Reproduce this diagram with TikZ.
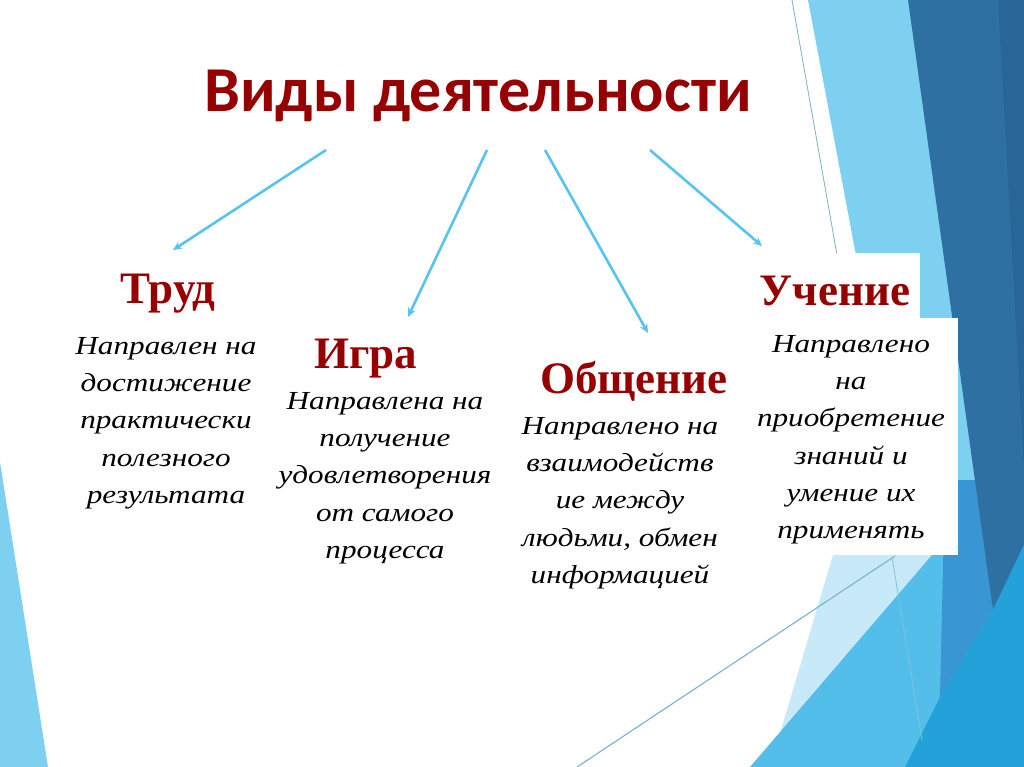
\documentclass[tikz,border=0pt]{standalone}
\usepackage{fontspec}
\setmainfont{Liberation Serif}
\newfontfamily\titulofont{Carlito}
\newfontfamily\textofont[FakeStretch=1.2]{Liberation Serif}
\usetikzlibrary{arrows.meta}

\begin{document}
\begin{tikzpicture}[x=1pt, y=-1pt, >={Stealth[length=9pt, width=8pt]},
    titulo/.style={font=\titulofont\bfseries\fontsize{64}{64}\selectfont, text=Rojo, inner sep=0pt, anchor=base},
    tipo/.style={font=\bfseries\fontsize{45}{45}\selectfont, text=Rojo, inner sep=0pt, anchor=base},
    texto/.style={font=\textofont\itshape\fontsize{26}{37.3}\selectfont, align=center, inner sep=0pt, anchor=north},
    flecha/.style={->, line width=2.6pt, Flecha}]

    % Colores de la diapositiva
    \definecolor{Rojo}{RGB}{150,0,0}
    \definecolor{Flecha}{RGB}{88,196,236}
    \definecolor{Celeste}{RGB}{126,208,240}
    \definecolor{Palido}{RGB}{200,233,247}
    \definecolor{Medio}{RGB}{82,190,233}
    \definecolor{Azul}{RGB}{58,150,210}
    \definecolor{Oscuro}{RGB}{47,112,162}
    \definecolor{Oscuro2}{RGB}{40,102,152}
    \definecolor{Brillante}{RGB}{34,162,217}

    \useasboundingbox (0,0) rectangle (1024,767);

    % --- 1. FONDO (triangulos decorativos) ---
    \fill[white] (0,0) rectangle (1024,767);
    \fill[Celeste] (0,462) -- (48,767) -- (0,767) -- cycle;
    \fill[Celeste] (808,0) -- (1024,0) -- (1024,767) -- (880,767) -- (880,556) -- (870,330) -- cycle;
    \fill[Palido] (833,555) -- (940,555) -- (790,767) -- (770,767) -- cycle;
    \fill[Medio] (750,767) -- (975,505) -- (1024,480) -- (1024,767) -- cycle;
    \fill[Azul] (945,480) -- (978,480) -- (993,610) -- (940,697) -- cycle;
    \fill[Oscuro] (908,0) -- (1024,0) -- (1024,545) -- (993,610) -- cycle;
    \fill[Oscuro2] (998,0) -- (1024,0) -- (1024,470) -- cycle;
    \fill[Brillante] (993,610) -- (1024,545) -- (1024,767) -- (905,767) -- (940,697) -- cycle;
    \draw[white, line width=2pt] (797,0) -- (842,262);
    \draw[Celeste!60!gray, line width=0.8pt] (792,0) -- (837,255);
    \draw[Celeste!70!gray, line width=1.2pt] (577,767) -- (895,556);
    \draw[Celeste!85!gray, line width=0.8pt] (892,557) -- (922,740);

    % Recuadros blancos de "Учение"
    \fill[white] (750,253) rectangle (920,320);
    \fill[white] (752,318) rectangle (958,555);

    % --- 2. TITULO Y TIPOS DE ACTIVIDAD ---
    \node[titulo] (titulo) at (478,112) {Виды деятельности};

    \node[tipo] (trud) at (168,303) {Труд};
    \node[tipo] (igra) at (366,368) {Игра};
    \node[tipo] (obsch) at (634,393) {Общение};
    \node[tipo] (uchen) at (835,305) {Учение};

    \node[texto] (trudtxt) at (166,337) {Направлен на\\достижение\\практически\\полезного\\результата};
    \node[texto] (igratxt) at (385,392) {Направлена на\\получение\\удовлетворения\\от самого\\процесса};
    \node[texto] (obschtxt) at (620,417) {Направлено на\\взаимодейств\\ие между\\людьми, обмен\\информацией};
    \node[texto] (uchentxt) at (851,335) {Направлено\\на\\приобретение\\знаний и\\умение их\\применять};

    % --- 3. FLECHAS ---
    \coordinate (s1) at (326,150); \coordinate (e1) at (173,250);
    \coordinate (s2) at (487,150); \coordinate (e2) at (408,317);
    \coordinate (s3) at (545,150); \coordinate (e3) at (648,333);
    \coordinate (s4) at (650,150); \coordinate (e4) at (762,246);
    \foreach \i in {1,...,4} {
        \draw[flecha] (s\i) -- (e\i);
    }

\end{tikzpicture}
\end{document}
